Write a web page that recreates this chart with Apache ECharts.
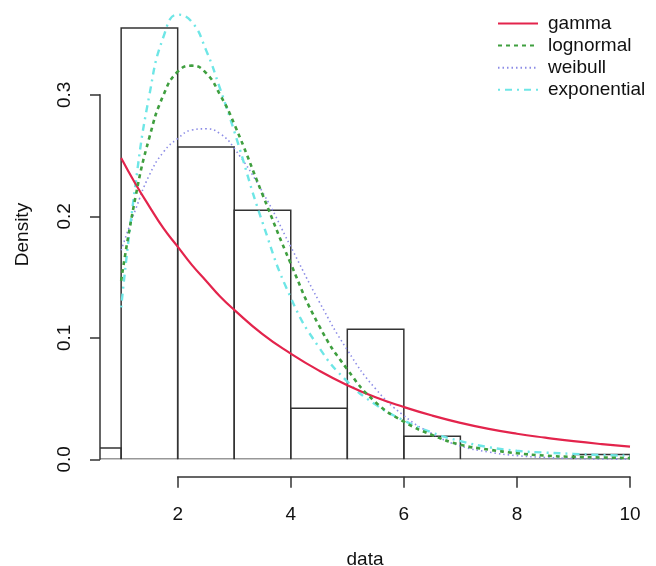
<!DOCTYPE html>
<html>
<head>
<meta charset="utf-8">
<script src="https://cdn.jsdelivr.net/npm/echarts@6/dist/echarts.min.js"></script>
<style>
html,body{margin:0;padding:0;background:#fff;}
#chart{width:656px;height:566px;}
</style>
</head>
<body>
<div id="chart"></div>
<script>
// Histogram bins
var binStarts = [0, 1, 2, 3, 4, 5, 6, 7, 8, 9];
var binEnds   = [1, 2, 3, 4, 5, 6, 7, 8, 9, 10];
var binDensity = [0.0093, 0.355, 0.257, 0.205, 0.042, 0.107, 0.019, 0, 0, 0.004];

// Fitted density curves
var curveX = [1, 1.25, 1.5, 1.75, 2, 2.25, 2.5, 2.75, 3, 3.5, 4, 4.5, 5, 5.5, 6, 6.5, 7, 7.5, 8, 8.5, 9, 9.5, 10];
var gammaY = [0.248, 0.227, 0.208, 0.190, 0.175, 0.160, 0.147, 0.134, 0.123, 0.103, 0.087, 0.073, 0.061, 0.051, 0.043, 0.036, 0.030, 0.025, 0.021, 0.0178, 0.0149, 0.0125, 0.0105];
var lognormalY = [0.147, 0.215, 0.265, 0.300, 0.319, 0.324, 0.318, 0.300, 0.276, 0.218, 0.161, 0.110, 0.074, 0.047, 0.031, 0.020, 0.012, 0.008, 0.005, 0.003, 0.002, 0.0015, 0.001];
var weibullY = [0.172, 0.205, 0.234, 0.253, 0.264, 0.271, 0.272, 0.268, 0.256, 0.220, 0.175, 0.130, 0.090, 0.058, 0.036, 0.021, 0.011, 0.006, 0.003, 0.0015, 0.0007, 0.0003, 0.0001];
var exponentialY = [0.125, 0.225, 0.300, 0.348, 0.366, 0.360, 0.337, 0.305, 0.270, 0.195, 0.133, 0.092, 0.064, 0.045, 0.032, 0.022, 0.015, 0.010, 0.007, 0.0055, 0.0045, 0.0035, 0.003];

// Axis ticks
var xTicks = [2, 4, 6, 8, 10];
var yTicks = [0, 0.1, 0.2, 0.3];

var seriesNames = ['gamma', 'lognormal', 'weibull', 'exponential'];

function pairs(xs, ys) { return xs.map(function (x, i) { return [x, ys[i]]; }); }
var histData = binStarts.map(function (s, i) { return [s, binEnds[i], binDensity[i]]; });

var FONT = 'Liberation Sans, Arial, sans-serif';
var AXC = '#333';

var chart = echarts.init(document.getElementById('chart'), null, {renderer: 'canvas'});
var option = {
  animation: false,
  backgroundColor: '#fff',
  textStyle: {fontFamily: FONT},
  grid: [
    {left: 100, right: 26, top: 9.75, bottom: 106.7, outerBoundsMode: 'none', containLabel: false},
    {left: 100, right: 26, top: 94.8, bottom: 106.7, outerBoundsMode: 'none', containLabel: false},
    {left: 177.7, right: 26, top: 466.7, bottom: 89.3, outerBoundsMode: 'none', containLabel: false}
  ],
  xAxis: [
    {gridIndex: 0, type: 'value', min: 0.626, max: 10,
     axisLine: {show: false}, axisTick: {show: false}, axisLabel: {show: false}, splitLine: {show: false},
     name: 'data', nameLocation: 'middle', nameGap: 91,
     nameTextStyle: {fontFamily: FONT, fontSize: 19, color: '#111'}},
    {gridIndex: 1, type: 'value', min: 0.626, max: 10, show: false},
    {gridIndex: 2, type: 'value', min: xTicks[0], max: xTicks[xTicks.length - 1], interval: 2, position: 'bottom',
     axisLine: {show: true, onZero: false, lineStyle: {color: AXC, width: 1.5}},
     axisTick: {show: true, length: 11, lineStyle: {color: AXC, width: 1.5}},
     axisLabel: {show: true, margin: 29, fontFamily: FONT, fontSize: 19, color: '#111'},
     splitLine: {show: false}}
  ],
  yAxis: [
    {gridIndex: 0, type: 'value', min: 0, max: 0.37,
     axisLine: {show: false}, axisTick: {show: false}, axisLabel: {show: false}, splitLine: {show: false},
     name: 'Density', nameLocation: 'middle', nameGap: 68,
     nameTextStyle: {fontFamily: FONT, fontSize: 19, color: '#111'}},
    {gridIndex: 1, type: 'value', min: yTicks[0], max: yTicks[yTicks.length - 1], interval: 0.1,
     axisLine: {show: true, lineStyle: {color: AXC, width: 1.5}},
     axisTick: {show: true, length: 10, lineStyle: {color: AXC, width: 1.5}},
     axisLabel: {show: true, rotate: 90, margin: 26, fontFamily: FONT, fontSize: 19, color: '#111',
                 formatter: function (v) { return v.toFixed(1); }},
     splitLine: {show: false}},
    {gridIndex: 2, type: 'value', show: false}
  ],
  legend: {
    orient: 'vertical', left: 492, top: 9,
    itemWidth: 40, itemHeight: 14, itemGap: 3.1,
    data: seriesNames,
    itemStyle: {opacity: 0},
    textStyle: {fontFamily: FONT, fontSize: 19, color: '#111', lineHeight: 19, padding: [0, 0, 0, 5]}
  },
  series: [
    {
      type: 'custom', name: 'hist', xAxisIndex: 0, yAxisIndex: 0, clip: true,
      data: histData,
      encode: {x: [0, 1], y: 2},
      renderItem: function (params, api) {
        var p0 = api.coord([api.value(0), api.value(2)]);
        var p1 = api.coord([api.value(1), 0]);
        return {type: 'rect',
          shape: {x: p0[0], y: p0[1], width: p1[0] - p0[0], height: p1[1] - p0[1]},
          style: {fill: 'none', stroke: '#333', lineWidth: 1.5}};
      },
      z: 1
    },
    {type: 'line', name: 'gamma', xAxisIndex: 0, yAxisIndex: 0, data: pairs(curveX, gammaY),
     smooth: true, symbol: 'none', color: '#e3244c',
     lineStyle: {color: '#e3244c', width: 2.2, type: 'solid'}, z: 3},
    {type: 'line', name: 'lognormal', xAxisIndex: 0, yAxisIndex: 0, data: pairs(curveX, lognormalY),
     smooth: true, symbol: 'none', color: '#3f9f3f',
     lineStyle: {color: '#3f9f3f', width: 2.6, type: [4, 4]}, z: 4},
    {type: 'line', name: 'weibull', xAxisIndex: 0, yAxisIndex: 0, data: pairs(curveX, weibullY),
     smooth: true, symbol: 'none', color: '#8c8ce6',
     lineStyle: {color: '#8c8ce6', width: 1.6, type: [1.5, 3]}, z: 2},
    {type: 'line', name: 'exponential', xAxisIndex: 0, yAxisIndex: 0, data: pairs(curveX, exponentialY),
     smooth: true, symbol: 'none', color: '#6ee6e6',
     lineStyle: {color: '#6ee6e6', width: 2.4, type: [2, 5, 7, 5]}, z: 2}
  ]
};
chart.setOption(option);
</script>
</body>
</html>
